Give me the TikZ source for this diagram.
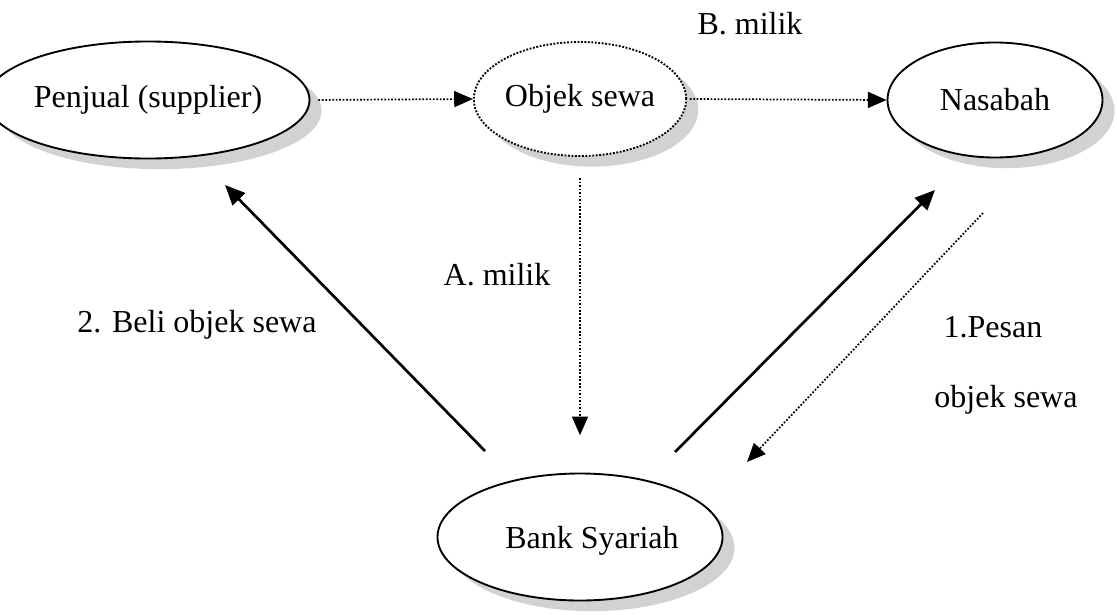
\documentclass[tikz,border=0pt]{standalone}
\usepackage{fontspec}
\setmainfont{Liberation Serif}
\usetikzlibrary{shapes.geometric,arrows.meta,shadows}
\begin{document}
\begin{tikzpicture}[x=0.75pt,y=-0.75pt,
  every node/.style={font=\fontsize{24}{28}\selectfont},
  oval/.style={ellipse, draw, line width=1.4pt, fill=white, inner sep=0pt,
    drop shadow={shadow xshift=9pt, shadow yshift=-8pt, fill=gray!35, opacity=1}},
  dotoval/.style={oval, dash pattern=on 1.4pt off 1.2pt},
  solidarrow/.style={line width=2pt, -{Triangle[length=15pt,width=13pt]}},
  dotarrow/.style={line width=1.3pt, dash pattern=on 1.3pt off 1.3pt, -{Triangle[length=14pt,width=12pt]}},
  lbl/.style={inner sep=0pt}
]
\useasboundingbox (0,0) rectangle (1117,614);
\node[oval, minimum width={280*0.75pt}, minimum height={117*0.75pt}] (pen) at (148,100) {Penjual (supplier)};
\node[dotoval, minimum width={190*0.75pt}, minimum height={114*0.75pt}] (obj) at (580,99) {Objek sewa};
\node[oval, minimum width={215*0.75pt}, minimum height={115*0.75pt}] (nas) at (995,100) {Nasabah};
\node[oval, minimum width={285*0.75pt}, minimum height={127*0.75pt},
  label={[xshift=9pt, yshift=-3pt]center:Bank Syariah}] (bank) at (580,537) {};

\coordinate (bp0) at (485,451);
\coordinate (bp1) at (225,185);
\coordinate (bn0) at (675,452);
\coordinate (bn1) at (935,190);
\coordinate (nb0) at (983,213);
\coordinate (nb1) at (747,462);

\draw[dotarrow, shorten <=6pt] (pen.east) -- (obj.west);
\draw[dotarrow, shorten <=2pt] (obj.east) -- (nas.west);
\draw[dotarrow, shorten <=16pt, shorten >=28pt] (obj.south) -- (obj.south |- bank.north);
\draw[solidarrow] (bp0) -- (bp1);
\draw[solidarrow] (bn0) -- (bn1);
\draw[dotarrow] (nb0) -- (nb1);

\node[lbl] (lb) at (750,24) {B. milik};
\node[lbl] (la) at (497,275) {A. milik};
\node[lbl] (l2) at (197,325) {2. Beli objek sewa};
\node[lbl] (l1a) at (993,327) {1.Pesan};
\node[lbl] (l1b) at (1006,400) {objek sewa};
\end{tikzpicture}
\end{document}
